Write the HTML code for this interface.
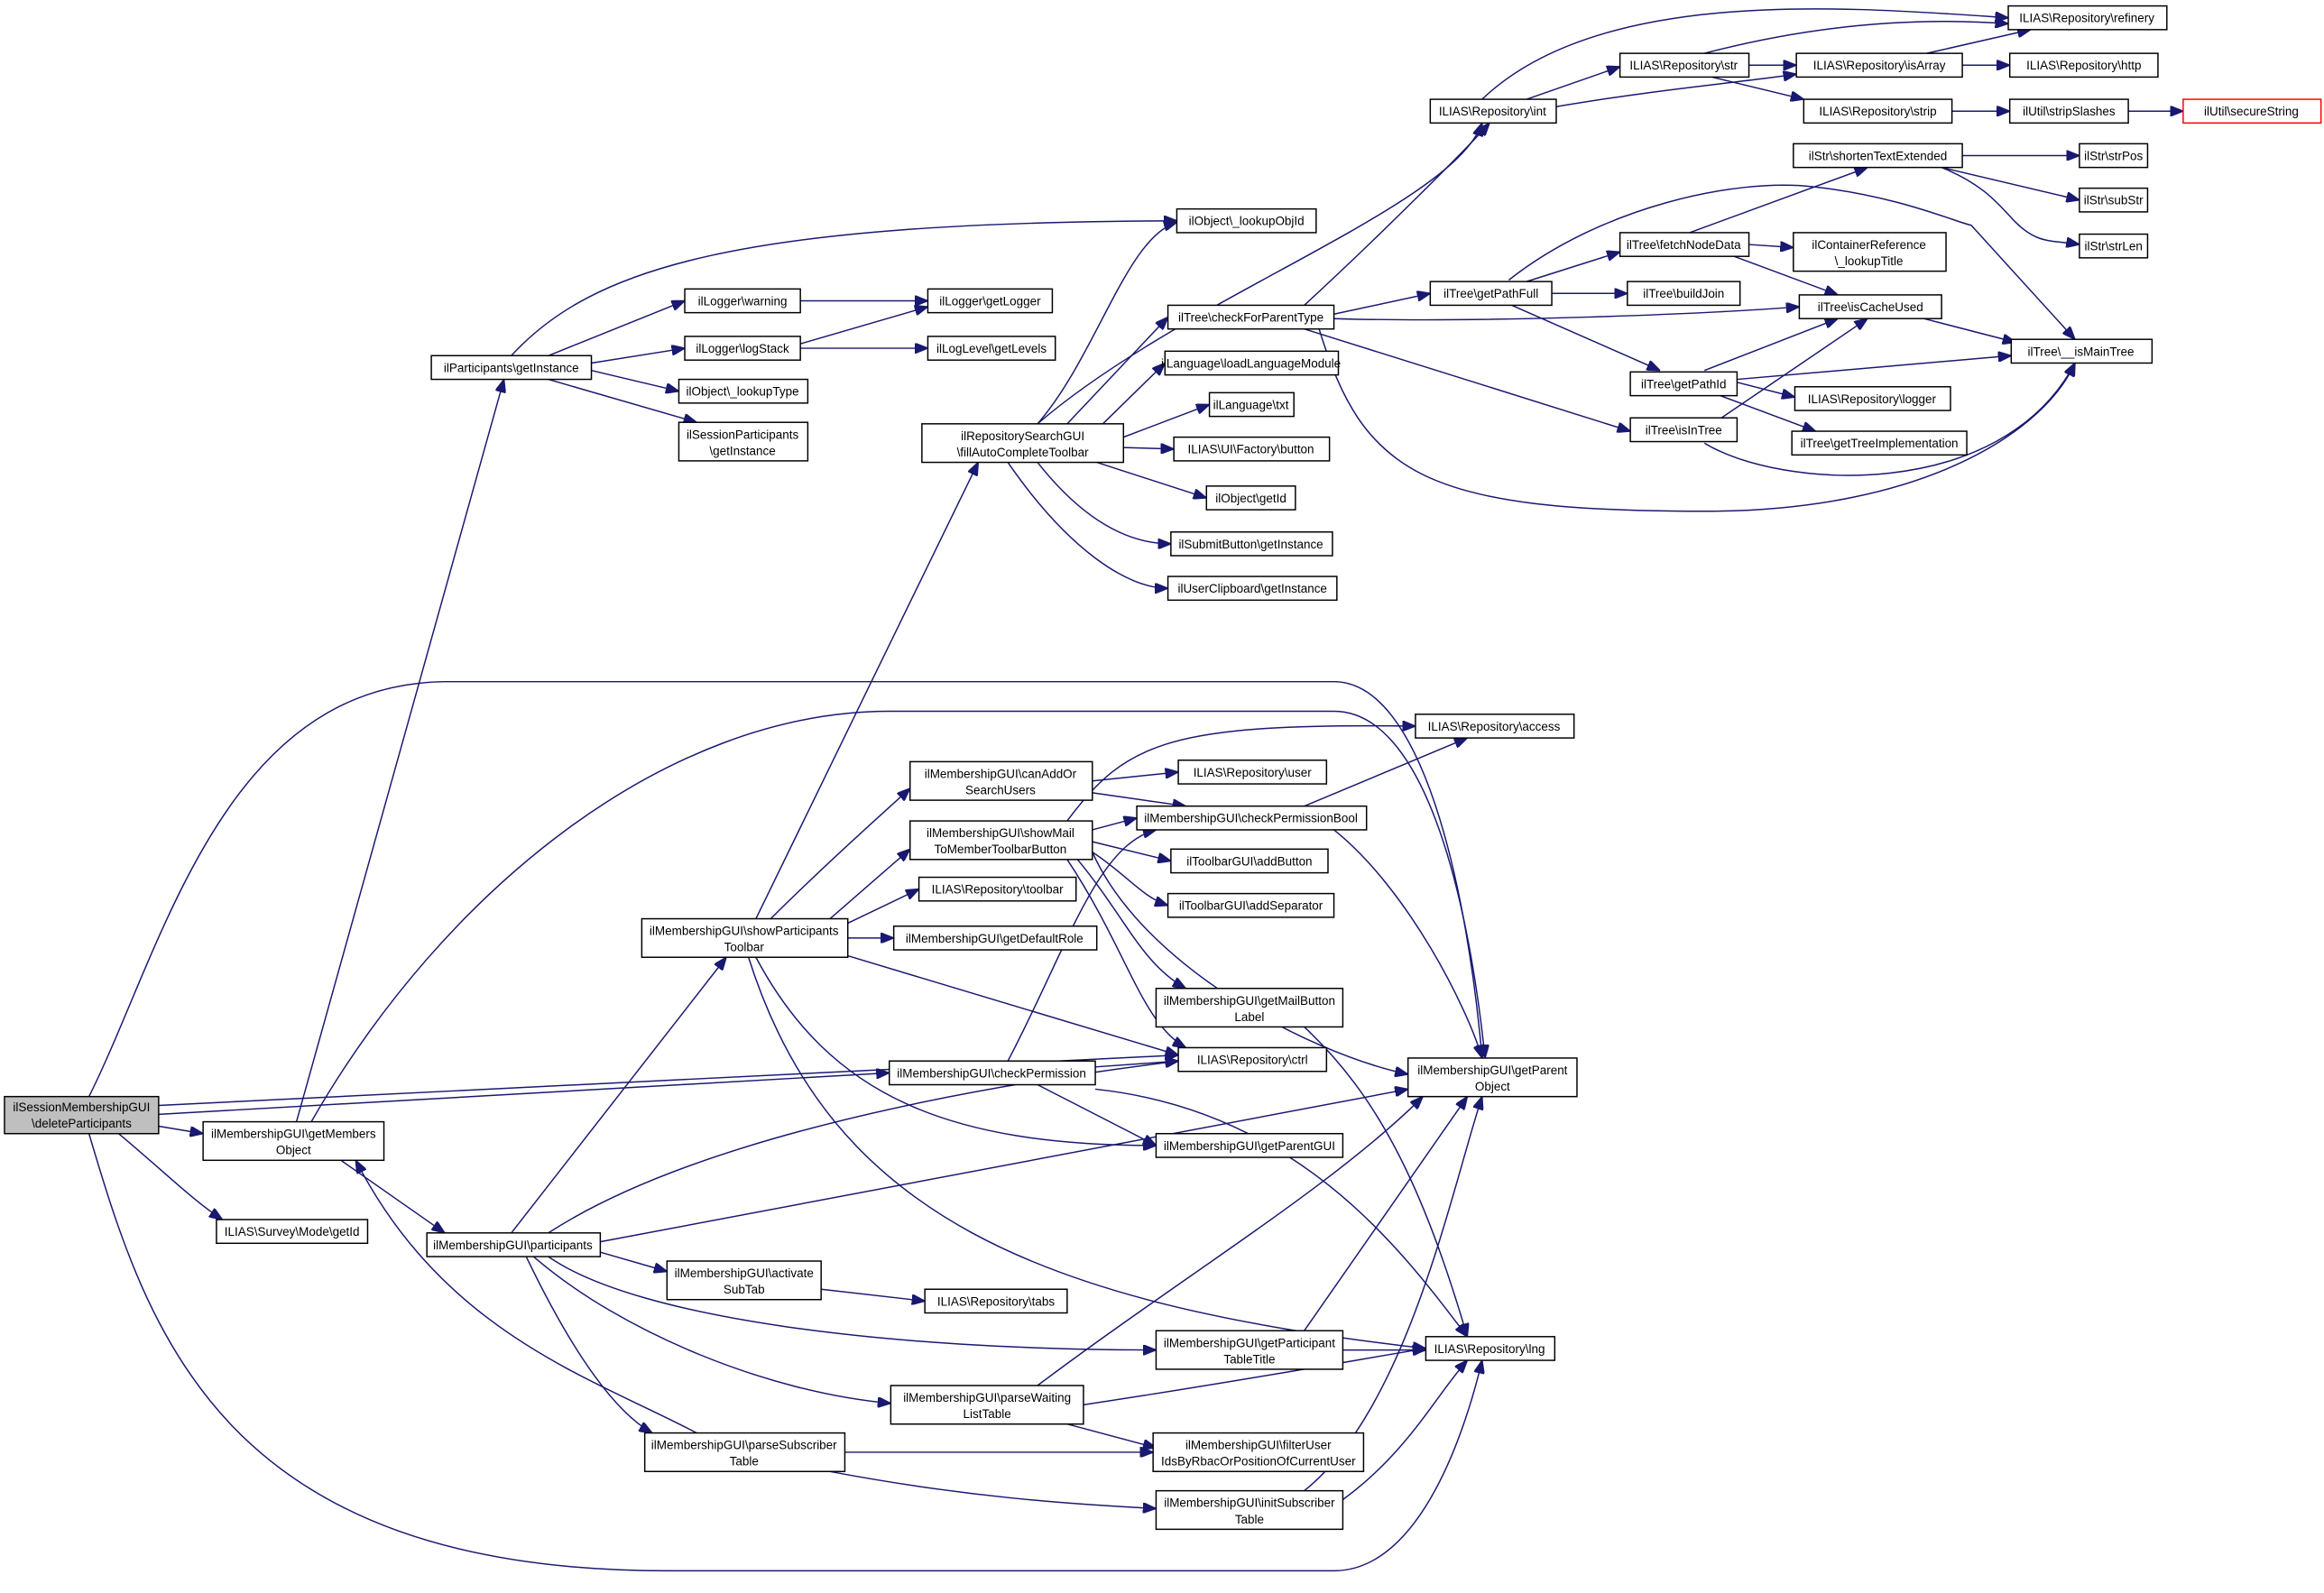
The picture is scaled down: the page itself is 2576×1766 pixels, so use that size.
<!DOCTYPE html>
<html><head><meta charset="utf-8"><style>
html,body{margin:0;padding:0;background:#fff;}
svg{display:block;}
text{font-family:"Liberation Sans",Arial,sans-serif;font-size:8.2px;fill:#000;text-anchor:middle;}
.n{fill:#fff;stroke:#000;stroke-width:0.9;}
.e{fill:none;stroke:#191970;stroke-width:0.9;}
</style></head><body>
<svg width="2576" height="1766" viewBox="0 0 1568 1075" xmlns="http://www.w3.org/2000/svg">
<defs><marker id="a" viewBox="0 0 10 8" refX="10" refY="4" markerWidth="9" markerHeight="7" orient="auto" markerUnits="userSpaceOnUse"><path d="M0,0 L10,4 L0,8 z" fill="#191970" stroke="#191970"/></marker></defs>
<g class="e" marker-end="url(#a)">
<path d="M60,740 C110,640 150,462 300,460 L900,460 C960,460 990,600 1000,714"/>
<path d="M107,746 L795,712"/>
<path d="M107,752 L600,724"/>
<path d="M107,760 L137,765"/>
<path d="M80,765 C110,790 130,810 150,823"/>
<path d="M60,765 C100,900 150,1060 450,1060 L900,1060 C960,1060 990,960 1000,918"/>
<path d="M200,757 L340,256"/>
<path d="M210,757 C300,600 450,480 600,480 L900,480 C960,480 990,600 1002,714"/>
<path d="M230,783 L300,832"/>
<path d="M470,967 C400,930 300,900 240,783"/>
<path d="M345,240 C400,180 500,150 794,149"/>
<path d="M370,240 L462,203"/>
<path d="M399,245 L462,235"/>
<path d="M399,250 L458,264"/>
<path d="M370,256 L470,285"/>
<path d="M540,203 L626,203"/>
<path d="M540,232 L626,207"/>
<path d="M540,235 L626,235"/>
<path d="M345,832 L490,646"/>
<path d="M370,832 C450,780 600,740 795,716"/>
<path d="M405,838 L950,735"/>
<path d="M405,845 L450,858"/>
<path d="M370,848 C430,890 600,911 780,911"/>
<path d="M360,848 C420,900 520,940 601,947"/>
<path d="M355,848 C380,900 410,950 440,967"/>
<path d="M554,870 L624,878"/>
<path d="M510,620 L660,312"/>
<path d="M520,620 C560,580 600,545 614,532"/>
<path d="M560,620 L614,573"/>
<path d="M572,623 L620,600"/>
<path d="M572,633 L603,633"/>
<path d="M572,645 L795,712"/>
<path d="M510,646 C560,740 640,773 780,773"/>
<path d="M505,646 C560,820 700,880 962,910"/>
<path d="M680,716 C720,640 740,570 780,560"/>
<path d="M739,720 L795,716"/>
<path d="M700,732 L780,773"/>
<path d="M739,735 C880,750 950,850 990,902"/>
<path d="M700,286 C740,240 760,160 794,150"/>
<path d="M700,286 C800,200 980,140 1000,83"/>
<path d="M720,286 L788,214"/>
<path d="M740,290 L786,245"/>
<path d="M758,295 L816,273"/>
<path d="M758,302 L792,303"/>
<path d="M740,312 L814,336"/>
<path d="M700,312 C730,350 760,367 790,367"/>
<path d="M680,312 C720,370 760,397 788,397"/>
<path d="M880,206 C930,160 990,100 1005,83"/>
<path d="M900,212 L965,198"/>
<path d="M900,215 C1000,218 1150,212 1214,207"/>
<path d="M880,222 L1100,291"/>
<path d="M890,222 C920,320 960,345 1150,345 C1300,345 1380,290 1400,245"/>
<path d="M1000,67 C1080,-10 1250,5 1355,12"/>
<path d="M1030,67 L1093,45"/>
<path d="M1050,72 C1120,60 1180,55 1212,50"/>
<path d="M1150,36 C1230,15 1300,12 1355,16"/>
<path d="M1180,44 L1212,44"/>
<path d="M1155,52 L1217,67"/>
<path d="M1300,36 L1370,20"/>
<path d="M1324,44 L1356,44"/>
<path d="M1317,75 L1356,75"/>
<path d="M1436,75 L1473,75"/>
<path d="M1324,105 L1403,105"/>
<path d="M1310,113 L1403,135"/>
<path d="M1310,113 C1340,125 1350,140 1360,150 C1375,165 1385,162 1403,165"/>
<path d="M1140,157 L1260,113"/>
<path d="M1180,165 L1210,167"/>
<path d="M1170,173 L1240,199"/>
<path d="M1030,190 L1093,170"/>
<path d="M1047,198 L1098,198"/>
<path d="M1020,206 L1120,250"/>
<path d="M1018,189 C1080,140 1170,120 1223,126 C1280,132 1320,150 1330,152 L1400,229"/>
<path d="M1150,250 L1240,215"/>
<path d="M1172,256 L1357,240"/>
<path d="M1172,258 L1211,268"/>
<path d="M1158,266 L1225,291"/>
<path d="M1160,283 L1260,215"/>
<path d="M1150,299 C1200,330 1350,340 1400,245"/>
<path d="M1298,215 L1360,231"/>
<path d="M720,554 C760,500 790,488 955,490"/>
<path d="M737,560 L767,552"/>
<path d="M737,568 L790,581"/>
<path d="M737,575 C760,590 770,605 788,611"/>
<path d="M727,580 C760,620 770,650 800,667"/>
<path d="M720,580 C760,640 770,690 800,707"/>
<path d="M737,575 C770,650 880,710 950,725"/>
<path d="M737,527 L795,521"/>
<path d="M737,535 L800,544"/>
<path d="M880,544 L990,498"/>
<path d="M900,560 C950,600 990,680 1000,714"/>
<path d="M880,693 C930,740 960,800 990,902"/>
<path d="M880,898 L990,740"/>
<path d="M906,911 L962,911"/>
<path d="M700,935 C800,860 900,800 960,740"/>
<path d="M731,948 C850,930 930,915 962,910"/>
<path d="M720,961 L780,977"/>
<path d="M570,980 L778,980"/>
<path d="M560,993 C650,1010 720,1015 780,1018"/>
<path d="M880,1006 C950,950 980,800 1000,740"/>
<path d="M906,1012 C950,980 970,940 990,918"/>
</g>
<g>
<rect class="n" x="3" y="740" width="104" height="25" style="fill:#bfbfbf"/><text x="55" y="750">ilSessionMembershipGUI</text><text x="55" y="761">\deleteParticipants</text>
<rect class="n" x="137" y="757" width="122" height="26"/><text x="198" y="768">ilMembershipGUI\getMembers</text><text x="198" y="779">Object</text>
<rect class="n" x="146" y="823" width="102" height="16"/><text x="197" y="834">ILIAS\Survey\Mode\getId</text>
<rect class="n" x="291" y="240" width="108" height="16"/><text x="345" y="251">ilParticipants\getInstance</text>
<rect class="n" x="288" y="832" width="117" height="16"/><text x="346" y="843">ilMembershipGUI\participants</text>
<rect class="n" x="433" y="620" width="139" height="26"/><text x="502" y="631">ilMembershipGUI\showParticipants</text><text x="502" y="642">Toolbar</text>
<rect class="n" x="600" y="716" width="139" height="16"/><text x="669" y="727">ilMembershipGUI\checkPermission</text>
<rect class="n" x="450" y="851" width="104" height="26"/><text x="502" y="862">ilMembershipGUI\activate</text><text x="502" y="873">SubTab</text>
<rect class="n" x="601" y="935" width="130" height="26"/><text x="666" y="946">ilMembershipGUI\parseWaiting</text><text x="666" y="957">ListTable</text>
<rect class="n" x="435" y="967" width="135" height="26"/><text x="502" y="978">ilMembershipGUI\parseSubscriber</text><text x="502" y="989">Table</text>
<rect class="n" x="462" y="195" width="78" height="16"/><text x="501" y="206">ilLogger\warning</text>
<rect class="n" x="462" y="227" width="78" height="16"/><text x="501" y="238">ilLogger\logStack</text>
<rect class="n" x="458" y="256" width="87" height="16"/><text x="501" y="267">ilObject\_lookupType</text>
<rect class="n" x="458" y="285" width="87" height="26"/><text x="501" y="296">ilSessionParticipants</text><text x="501" y="307">\getInstance</text>
<rect class="n" x="626" y="195" width="84" height="16"/><text x="668" y="206">ilLogger\getLogger</text>
<rect class="n" x="626" y="227" width="86" height="16"/><text x="669" y="238">ilLogLevel\getLevels</text>
<rect class="n" x="794" y="141" width="94" height="16"/><text x="841" y="152">ilObject\_lookupObjId</text>
<rect class="n" x="622" y="286" width="136" height="26"/><text x="690" y="297">ilRepositorySearchGUI</text><text x="690" y="308">\fillAutoCompleteToolbar</text>
<rect class="n" x="788" y="206" width="112" height="16"/><text x="844" y="217">ilTree\checkForParentType</text>
<rect class="n" x="786" y="237" width="117" height="16"/><text x="844" y="248">ilLanguage\loadLanguageModule</text>
<rect class="n" x="816" y="265" width="57" height="16"/><text x="844" y="276">ilLanguage\txt</text>
<rect class="n" x="792" y="295" width="105" height="16"/><text x="844" y="306">ILIAS\UI\Factory\button</text>
<rect class="n" x="814" y="328" width="60" height="16"/><text x="844" y="339">ilObject\getId</text>
<rect class="n" x="790" y="359" width="109" height="16"/><text x="844" y="370">ilSubmitButton\getInstance</text>
<rect class="n" x="788" y="389" width="114" height="16"/><text x="845" y="400">ilUserClipboard\getInstance</text>
<rect class="n" x="965" y="67" width="85" height="16"/><text x="1007" y="78">ILIAS\Repository\int</text>
<rect class="n" x="1093" y="36" width="87" height="16"/><text x="1136" y="47">ILIAS\Repository\str</text>
<rect class="n" x="1355" y="4" width="107" height="16"/><text x="1408" y="15">ILIAS\Repository\refinery</text>
<rect class="n" x="1212" y="36" width="112" height="16"/><text x="1268" y="47">ILIAS\Repository\isArray</text>
<rect class="n" x="1356" y="36" width="100" height="16"/><text x="1406" y="47">ILIAS\Repository\http</text>
<rect class="n" x="1217" y="67" width="100" height="16"/><text x="1267" y="78">ILIAS\Repository\strip</text>
<rect class="n" x="1356" y="67" width="80" height="16"/><text x="1396" y="78">ilUtil\stripSlashes</text>
<rect class="n" x="1473" y="67" width="93" height="16" style="stroke:#ff0000"/><text x="1519" y="78">ilUtil\secureString</text>
<rect class="n" x="1210" y="97" width="114" height="16"/><text x="1267" y="108">ilStr\shortenTextExtended</text>
<rect class="n" x="1403" y="97" width="46" height="16"/><text x="1426" y="108">ilStr\strPos</text>
<rect class="n" x="1403" y="127" width="46" height="16"/><text x="1426" y="138">ilStr\subStr</text>
<rect class="n" x="1403" y="158" width="46" height="16"/><text x="1426" y="169">ilStr\strLen</text>
<rect class="n" x="1093" y="157" width="87" height="16"/><text x="1136" y="168">ilTree\fetchNodeData</text>
<rect class="n" x="1210" y="157" width="103" height="26"/><text x="1261" y="168">ilContainerReference</text><text x="1261" y="179">\_lookupTitle</text>
<rect class="n" x="965" y="190" width="82" height="16"/><text x="1006" y="201">ilTree\getPathFull</text>
<rect class="n" x="1098" y="190" width="76" height="16"/><text x="1136" y="201">ilTree\buildJoin</text>
<rect class="n" x="1214" y="199" width="96" height="16"/><text x="1262" y="210">ilTree\isCacheUsed</text>
<rect class="n" x="1357" y="229" width="95" height="16"/><text x="1404" y="240">ilTree\__isMainTree</text>
<rect class="n" x="1100" y="251" width="72" height="16"/><text x="1136" y="262">ilTree\getPathId</text>
<rect class="n" x="1211" y="261" width="105" height="16"/><text x="1263" y="272">ILIAS\Repository\logger</text>
<rect class="n" x="1209" y="291" width="118" height="16"/><text x="1268" y="302">ilTree\getTreeImplementation</text>
<rect class="n" x="1100" y="282" width="72" height="16"/><text x="1136" y="293">ilTree\isInTree</text>
<rect class="n" x="955" y="482" width="107" height="16"/><text x="1008" y="493">ILIAS\Repository\access</text>
<rect class="n" x="614" y="514" width="123" height="26"/><text x="675" y="525">ilMembershipGUI\canAddOr</text><text x="675" y="536">SearchUsers</text>
<rect class="n" x="795" y="513" width="100" height="16"/><text x="845" y="524">ILIAS\Repository\user</text>
<rect class="n" x="767" y="544" width="155" height="16"/><text x="844" y="555">ilMembershipGUI\checkPermissionBool</text>
<rect class="n" x="614" y="554" width="123" height="26"/><text x="675" y="565">ilMembershipGUI\showMail</text><text x="675" y="576">ToMemberToolbarButton</text>
<rect class="n" x="790" y="573" width="106" height="16"/><text x="843" y="584">ilToolbarGUI\addButton</text>
<rect class="n" x="788" y="603" width="112" height="16"/><text x="844" y="614">ilToolbarGUI\addSeparator</text>
<rect class="n" x="620" y="592" width="106" height="16"/><text x="673" y="603">ILIAS\Repository\toolbar</text>
<rect class="n" x="603" y="625" width="137" height="16"/><text x="671" y="636">ilMembershipGUI\getDefaultRole</text>
<rect class="n" x="780" y="667" width="126" height="26"/><text x="843" y="678">ilMembershipGUI\getMailButton</text><text x="843" y="689">Label</text>
<rect class="n" x="795" y="707" width="100" height="16"/><text x="845" y="718">ILIAS\Repository\ctrl</text>
<rect class="n" x="950" y="714" width="114" height="26"/><text x="1007" y="725">ilMembershipGUI\getParent</text><text x="1007" y="736">Object</text>
<rect class="n" x="780" y="765" width="126" height="16"/><text x="843" y="776">ilMembershipGUI\getParentGUI</text>
<rect class="n" x="780" y="898" width="126" height="26"/><text x="843" y="909">ilMembershipGUI\getParticipant</text><text x="843" y="920">TableTitle</text>
<rect class="n" x="962" y="902" width="87" height="16"/><text x="1005" y="913">ILIAS\Repository\lng</text>
<rect class="n" x="624" y="870" width="96" height="16"/><text x="672" y="881">ILIAS\Repository\tabs</text>
<rect class="n" x="778" y="967" width="142" height="26"/><text x="849" y="978">ilMembershipGUI\filterUser</text><text x="849" y="989">IdsByRbacOrPositionOfCurrentUser</text>
<rect class="n" x="780" y="1006" width="126" height="26"/><text x="843" y="1017">ilMembershipGUI\initSubscriber</text><text x="843" y="1028">Table</text>
</g>
</svg>
</body></html>
